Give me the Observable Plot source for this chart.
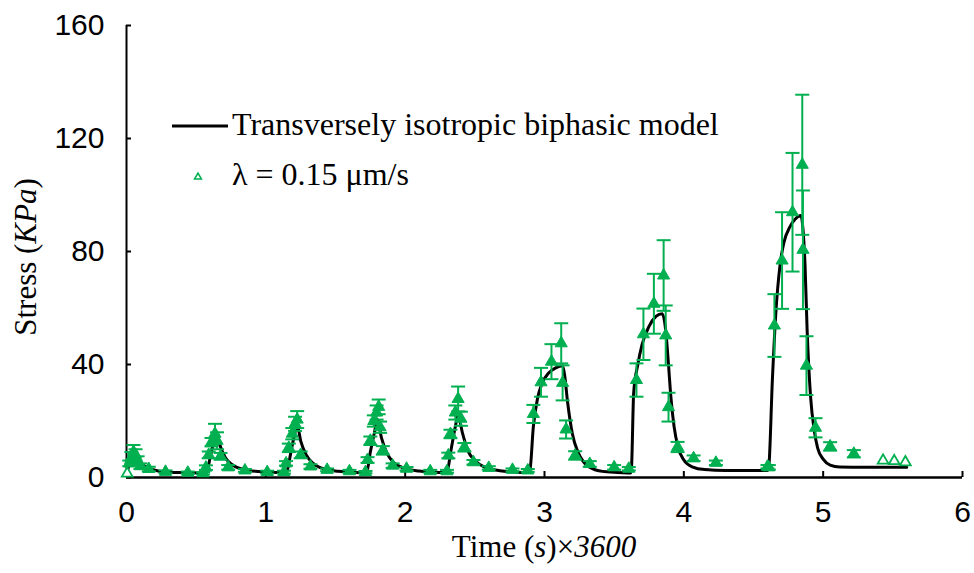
<!DOCTYPE html>
<html>
<head>
<meta charset="utf-8">
<script src="https://cdn.jsdelivr.net/npm/d3@7"></script>
<script src="https://cdn.jsdelivr.net/npm/@observablehq/plot@0.6"></script>
<style>
  html, body { margin: 0; padding: 0; background: #fff; }
</style>
</head>
<body>
<div id="chart"></div>
<script>
// ---- Tick values ----
const xTicks = [0, 1, 2, 3, 4, 5, 6];
const yTicks = [0, 40, 80, 120, 160];

// ---- Labels ----
const modelLabel = "Transversely isotropic biphasic model";
const expLabel = "λ = 0.15 μm/s";

// ---- Model curve (time ×3600 s, stress kPa) ----
const modelT = [
  0, 0.02, 0.045, 0.06, 0.08, 0.11, 0.15, 0.22, 0.32, 0.45, 0.57,
  0.575, 0.60, 0.625, 0.645, 0.67, 0.71, 0.76, 0.84, 0.95, 1.07, 1.14,
  1.15, 1.18, 1.205, 1.225, 1.25, 1.29, 1.34, 1.42, 1.52, 1.64, 1.715,
  1.725, 1.75, 1.78, 1.80, 1.83, 1.87, 1.92, 2.0, 2.1, 2.2, 2.29,
  2.30, 2.33, 2.36, 2.38, 2.41, 2.45, 2.5, 2.58, 2.68, 2.8, 2.88,
  2.895, 2.92, 2.95, 2.98, 3.03, 3.08, 3.13, 3.145, 3.165, 3.2, 3.24, 3.28, 3.35, 3.45, 3.6, 3.62,
  3.625, 3.64, 3.67, 3.70, 3.75, 3.80, 3.845, 3.87, 3.89, 3.905, 3.93, 3.96, 4.0, 4.06, 4.15, 4.3, 4.6,
  4.61, 4.635, 4.66, 4.69, 4.72, 4.76, 4.80, 4.84, 4.855, 4.87, 4.885, 4.91, 4.935, 4.96, 5.0, 5.05, 5.12, 5.3, 5.6
];
const modelS = [
  0.5, 5, 8.5, 10, 7.5, 5, 3.5, 2.4, 1.9, 1.7, 1.6,
  1.8, 7, 12.5, 16, 11.5, 7, 4.5, 2.8, 2.1, 1.8, 1.7,
  2, 9, 15, 18.5, 13, 8, 5, 3, 2.2, 1.8, 1.7,
  2, 9, 16, 20.5, 14, 8.5, 5.2, 3.2, 2.3, 1.9, 1.8,
  2, 10, 18, 22, 16, 9.5, 6, 3.5, 2.4, 1.9, 1.8,
  2.5, 18, 28, 33, 37, 38.8, 39.6, 36, 27, 15.5, 9, 5.5, 3, 2, 1.6, 1.6,
  4, 30, 40, 47, 53.5, 57, 58, 52, 40, 29.6, 18, 10.5, 6.2, 3.8, 2.8, 2.5, 2.5,
  4, 34, 58, 75, 83.5, 88.6, 91.5, 92.7, 88, 75, 52, 28.4, 17, 10.5, 6.5, 4.4, 3.7, 3.6, 3.6
];

// ---- Experimental points: time, mean stress, error (half-width) ----
const expT = [
  0.005, 0.02, 0.035, 0.05, 0.065, 0.08, 0.10, 0.16, 0.28, 0.44, 0.55,
  0.57, 0.59, 0.61, 0.635, 0.65, 0.675, 0.73, 0.85, 1.01, 1.13,
  1.145, 1.165, 1.19, 1.21, 1.225, 1.25, 1.32, 1.44, 1.6,
  1.715, 1.73, 1.75, 1.775, 1.795, 1.81, 1.82, 1.84, 1.91, 2.01, 2.18, 2.30,
  2.31, 2.325, 2.36, 2.38, 2.40, 2.425, 2.49, 2.60, 2.77, 2.88,
  2.92, 2.975, 3.05, 3.12, 3.13, 3.155, 3.22, 3.325, 3.50, 3.605,
  3.66, 3.71, 3.785, 3.855, 3.87, 3.89, 3.955, 4.07, 4.23, 4.6,
  4.61, 4.65, 4.705, 4.78, 4.85, 4.855, 4.88, 4.945, 5.05, 5.22, 5.43, 5.51, 5.59
];
const expS = [
  1.4, 5, 7, 9, 8, 6, 4, 3, 2, 1.7, 1.5,
  3.5, 8, 12.5, 15.5, 13, 7.5, 3.6, 2.5, 1.9, 1.9,
  5, 10.5, 15.5, 19, 20.5, 8, 3.9, 2.7, 2.2,
  1.9, 6.2, 13, 20, 23, 25, 17.8, 9.6, 4.2, 3.1, 2.2, 2.2,
  7.8, 15.4, 23, 27.8, 20.8, 10.7, 5.4, 3.4, 2.7, 2.5,
  22.5, 33.7, 41, 47.5, 33.5, 17, 7.8, 4.8, 3.6, 3.1,
  34.5, 50.7, 61.5, 71.5, 50.3, 24.9, 10.8, 6.8, 5.2, 3.8,
  3.6, 53.8, 76.8, 93.9, 110.7, 80.6, 39.6, 17.6, 11, 8.4, 6.0, 5.8, 5.4
];
const expErr = [
  0, 1, 2, 2.5, 2, 1.5, 1, 0.8, 0.5, 0.4, 0.4,
  0.8, 1.2, 1.5, 3.5, 3, 1.2, 0.8, 0.5, 0.5, 0.5,
  0.8, 1.5, 2, 2.5, 3, 1.2, 0.8, 0.5, 0.5,
  0.4, 1, 1.5, 2, 2.5, 2.6, 2, 1.5, 0.8, 0.6, 0.5, 0.5,
  1, 1.5, 2.5, 4.4, 2.5, 1.5, 0.8, 0.6, 0.5, 0.5,
  3.2, 5.1, 6.2, 7.1, 6.2, 3.2, 1.5, 1, 0.8, 0.6,
  5.9, 9.1, 10.6, 12.5, 10.6, 5.1, 1.8, 1, 0.8, 0.6,
  0.8, 11.1, 17.1, 21, 24.8, 21, 10.4, 3.4, 1.5, 1.3, 0, 0, 0
];

// ---- Build tables ----
const model = modelT.map((t, i) => ({t, s: modelS[i]}));
const exp = expT.map((t, i) => ({t, s: expS[i], e: expErr[i]}));
const withErr = exp.filter(d => d.e > 0);
const noErr = exp.filter(d => d.e === 0);

const green = "#00b050";
const serif = "'Liberation Serif', 'Times New Roman', serif";
const sans = "'Liberation Sans', Arial, sans-serif";

// horizontal cap symbol for error bars
const capSymbol = {
  draw(ctx, size) {
    const w = Math.sqrt(size / Math.PI);
    ctx.moveTo(-w, 0);
    ctx.lineTo(w, 0);
  }
};

const W = 974, H = 573;
const mL = 126, mR = 12, mT = 25, mB = 96;
const innerW = W - mL - mR, innerH = H - mT - mB;

const svg = Plot.plot({
  width: W,
  height: H,
  marginLeft: mL,
  marginRight: mR,
  marginTop: mT,
  marginBottom: mB,
  x: {domain: [0, 6]},
  y: {domain: [0, 160]},
  style: {fontFamily: sans, fontSize: "30px", color: "black", background: "white", overflow: "visible"},
  marks: [
    Plot.axisX({ticks: xTicks, tickSize: 0, tickPadding: 23, label: null, tickFormat: d => String(d), fontSize: 30}),
    Plot.axisY({ticks: yTicks, tickSize: 0, tickPadding: 22, label: null, tickFormat: d => String(d), fontSize: 30}),
    Plot.tickX(xTicks, {x: d => d, insetTop: innerH - 6, stroke: "black", strokeWidth: 2}),
    Plot.tickY(yTicks, {y: d => d, insetRight: innerW - 5, stroke: "black", strokeWidth: 2}),
    Plot.ruleX([0], {stroke: "black", strokeWidth: 2}),
    Plot.ruleY([0], {stroke: "black", strokeWidth: 2.5}),
    Plot.line(model, {x: "t", y: "s", curve: "monotone-x", stroke: "black", strokeWidth: 3}),
    Plot.ruleX(withErr, {x: "t", y1: d => d.s - d.e, y2: d => d.s + d.e, stroke: green, strokeWidth: 2}),
    Plot.dot(withErr, {x: "t", y: d => d.s + d.e, symbol: capSymbol, r: 7, stroke: green, fill: "none", strokeWidth: 2}),
    Plot.dot(withErr, {x: "t", y: d => d.s - d.e, symbol: capSymbol, r: 7, stroke: green, fill: "none", strokeWidth: 2}),
    Plot.dot(withErr, {x: "t", y: "s", symbol: "triangle", r: 4.5, fill: green, stroke: green, strokeWidth: 1}),
    Plot.dot(noErr, {x: "t", y: "s", symbol: "triangle", r: 4, fill: "white", stroke: green, strokeWidth: 1.8})
  ]
});

const sel = d3.select(svg);
const xs = svg.scale("x"), ys = svg.scale("y");

// X axis title
const xt = sel.append("text")
  .attr("x", xs.apply(3))
  .attr("y", 557)
  .attr("text-anchor", "middle")
  .style("font-family", serif)
  .style("font-size", "31px")
  .attr("fill", "black");
xt.append("tspan").text("Time (");
xt.append("tspan").style("font-style", "italic").text("s");
xt.append("tspan").text(")×");
xt.append("tspan").style("font-style", "italic").text("3600");

// Y axis title
const yt = sel.append("text")
  .attr("transform", `translate(36,${ys.apply(80) + 6}) rotate(-90)`)
  .attr("text-anchor", "middle")
  .style("font-family", serif)
  .style("font-size", "31px")
  .attr("fill", "black");
yt.append("tspan").text("Stress (");
yt.append("tspan").style("font-style", "italic").text("KPa");
yt.append("tspan").text(")");

// Legend
const lg = sel.append("g").attr("text-anchor", "start");
lg.append("line").attr("x1", 172).attr("x2", 228).attr("y1", 126).attr("y2", 126)
  .attr("stroke", "black").attr("stroke-width", 3);
lg.append("text").attr("x", 232).attr("y", 135).attr("text-anchor", "start")
  .style("font-family", serif).style("font-size", "32px").attr("fill", "black")
  .text(modelLabel);
lg.append("path").attr("transform", "translate(198,177)")
  .attr("d", d3.symbol(d3.symbolTriangle, 20)())
  .attr("fill", "white").attr("stroke", green).attr("stroke-width", 1.6);
lg.append("text").attr("x", 232).attr("y", 185).attr("text-anchor", "start")
  .style("font-family", serif).style("font-size", "32px").attr("fill", "black")
  .text(expLabel);

document.getElementById("chart").appendChild(svg);
</script>
</body>
</html>
